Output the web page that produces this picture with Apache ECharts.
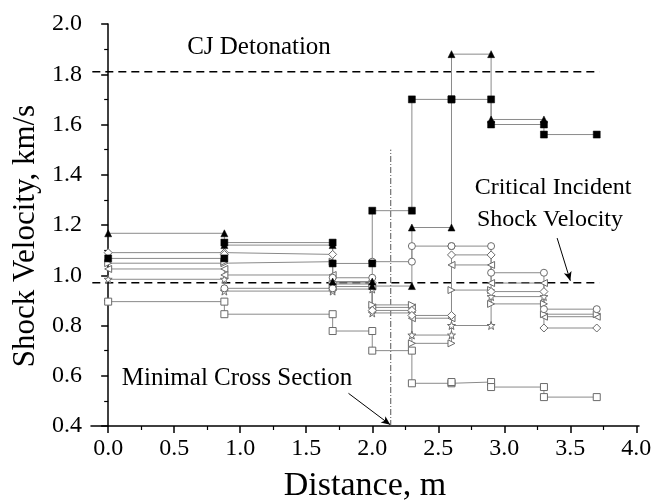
<!DOCTYPE html>
<html>
<head>
<meta charset="utf-8">
<script src="https://cdn.jsdelivr.net/npm/echarts@6/dist/echarts.min.js"></script>
<style>html,body{margin:0;padding:0;background:#fff}#c{width:653px;height:500px}</style>
</head>
<body>
<div id="c"></div>
<script>
// sensor positions (m) — each value holds between two consecutive positions
const xEdges = [0, 0.88, 1.7, 2.0, 2.3, 2.6, 2.9, 3.3, 3.7];
// shock velocity per segment (km/s)
const filledTriangle = [1.167, 1.12, 0.975, 0.957, 1.19, 1.88, 1.62, null];
const filledSquare   = [1.067, 1.13, 1.047, 1.257, 1.70, 1.70, 1.60, 1.56];
const openCircle     = [null, 0.948, 0.99, 1.054, 1.116, 1.116, 1.01, 0.865];
const openDiamond    = [1.09, 1.083, 0.97, 0.86, 0.84, 1.081, 0.935, 0.79];
const openRightTri   = [1.048, 1.054, 0.965, 0.882, 0.729, 0.941, 0.886, 0.845];
const openLeftTri    = [1.025, 1.001, 0.955, 0.872, 0.829, 1.041, 0.969, 0.835];
const openStar       = [0.984, 0.937, 0.945, 0.85, 0.762, 0.80, 0.915, null];
const openSquare     = [0.895, 0.845, 0.778, 0.70, 0.57, 0.575, 0.555, 0.515];
// reference levels
const cjVelocity = 1.81;
const criticalVelocity = 0.97;
const minimalSectionX = 2.14;
const refLineX = [-0.12, 3.72];
const minimalSectionY = [0.4, 1.5];
// tick labels
const xTicks = [0, 0.5, 1.0, 1.5, 2.0, 2.5, 3.0, 3.5, 4.0];
const xMinorTicks = [0.25, 0.75, 1.25, 1.75, 2.25, 2.75, 3.25, 3.75];
// annotation arrows [from, to] in data units
const arrowCritical = [[3.40, 1.148], [3.50, 0.978]];
const arrowSection = [[1.82, 0.53], [2.136, 0.405]];

const FONT = "'Liberation Serif', 'Times New Roman', serif";
const STAR = 'path://M0,-10 L2.35,-3.24 L9.51,-3.09 L3.8,1.24 L5.88,8.09 L0,4 L-5.88,8.09 L-3.8,1.24 L-9.51,-3.09 L-2.35,-3.24 Z';

function stepPoints(vals) {
  const pts = [];
  vals.forEach((v, i) => {
    if (v == null) return;
    pts.push([xEdges[i], v], [xEdges[i + 1], v]);
  });
  return pts;
}

function stepSeries(name, vals, symbol, filled, rotate, size) {
  return {
    name: name, type: 'line', data: stepPoints(vals),
    symbol: symbol, symbolSize: size || 7, symbolRotate: rotate || 0,
    showAllSymbol: true, clip: false, z: 3,
    lineStyle: { color: '#8a8a8a', width: 1 },
    itemStyle: filled
      ? { color: '#000', borderColor: '#000', borderWidth: 0.5 }
      : { color: '#fff', borderColor: '#6a6a6a', borderWidth: 1 },
    emphasis: { disabled: true }, animation: false
  };
}

const chart = echarts.init(document.getElementById('c'), null, { renderer: 'canvas' });
const axisLine = { lineStyle: { color: '#000', width: 1.5 } };
chart.setOption({
  animation: false,
  textStyle: { fontFamily: FONT },
  grid: { left: 91, top: 24, width: 548, height: 402, containLabel: false, outerBoundsMode: 'none' },
  xAxis: [{
    type: 'value', min: -0.13, max: 4.02,
    name: 'Distance, m', nameLocation: 'middle', nameGap: 43,
    nameTextStyle: { fontFamily: FONT, fontSize: 34, color: '#000' },
    axisLine: axisLine, splitLine: { show: false },
    axisTick: { show: true, inside: false, length: 7, customValues: xTicks, lineStyle: { color: '#000', width: 1.5 } },
    axisLabel: { customValues: xTicks, margin: 11, fontFamily: FONT, fontSize: 24, color: '#000',
      formatter: v => v.toFixed(1) }
  }, {
    type: 'value', min: -0.13, max: 4.02, position: 'bottom', gridIndex: 0,
    axisLine: { show: false }, splitLine: { show: false },
    axisTick: { show: true, length: 4, customValues: xMinorTicks, lineStyle: { color: '#000', width: 1.2 } },
    axisLabel: { show: false }
  }],
  yAxis: {
    type: 'value', min: 0.4, max: 2.0, interval: 0.2,
    name: 'Shock Velocity, km/s', nameLocation: 'middle', nameGap: 50,
    nameTextStyle: { fontFamily: FONT, fontSize: 31, color: '#000', padding: [0, 22, 0, 0] },
    axisLine: { show: true, lineStyle: { color: '#000', width: 1.5 } }, splitLine: { show: false },
    axisTick: { show: true, length: 7, lineStyle: { color: '#000', width: 1.5 } },
    minorTick: { show: true, splitNumber: 2, length: 4, lineStyle: { color: '#000', width: 1.2 } },
    axisLabel: { margin: 9, fontFamily: FONT, fontSize: 24, color: '#000', formatter: v => v.toFixed(1) }
  },
  graphic: [
    { type: 'text', x: 259, y: 47, style: { text: 'CJ Detonation', font: '25px ' + FONT, fill: '#000', align: 'center', verticalAlign: 'middle' } },
    { type: 'text', x: 553, y: 188, style: { text: 'Critical Incident', font: '24px ' + FONT, fill: '#000', align: 'center', verticalAlign: 'middle' } },
    { type: 'text', x: 550, y: 220, style: { text: 'Shock Velocity', font: '24px ' + FONT, fill: '#000', align: 'center', verticalAlign: 'middle' } },
    { type: 'text', x: 237, y: 378, style: { text: 'Minimal Cross Section', font: '25px ' + FONT, fill: '#000', align: 'center', verticalAlign: 'middle' } }
  ],
  series: [
    { type: 'line', data: refLineX.map(x => [x, cjVelocity]), showSymbol: false, clip: false, z: 2,
      lineStyle: { color: '#000', width: 1.5, type: [8, 5] }, silent: true },
    { type: 'line', data: refLineX.map(x => [x, criticalVelocity]), showSymbol: false, clip: false, z: 2,
      lineStyle: { color: '#000', width: 1.5, type: [8, 5] }, silent: true },
    { type: 'line', data: minimalSectionY.map(y => [minimalSectionX, y]), showSymbol: false, clip: false, z: 2,
      lineStyle: { color: '#555', width: 1, type: [6, 2, 1, 2] }, silent: true,
      markLine: {
        silent: true, symbol: ['none', 'arrow'], symbolSize: [6, 9], label: { show: false },
        lineStyle: { color: '#000', width: 1, type: 'solid' },
        data: [
          [{ coord: arrowCritical[0] }, { coord: arrowCritical[1] }],
          [{ coord: arrowSection[0] }, { coord: arrowSection[1] }]
        ]
      } },
    stepSeries('open square', openSquare, 'rect', false),
    stepSeries('open star', openStar, STAR, false, 0, 8),
    stepSeries('open left triangle', openLeftTri, 'triangle', false, 90),
    stepSeries('open right triangle', openRightTri, 'triangle', false, -90),
    stepSeries('open diamond', openDiamond, 'diamond', false, 0, 8),
    stepSeries('open circle', openCircle, 'circle', false),
    stepSeries('filled square', filledSquare, 'rect', true),
    stepSeries('filled triangle', filledTriangle, 'triangle', true)
  ]
});
</script>
</body>
</html>
